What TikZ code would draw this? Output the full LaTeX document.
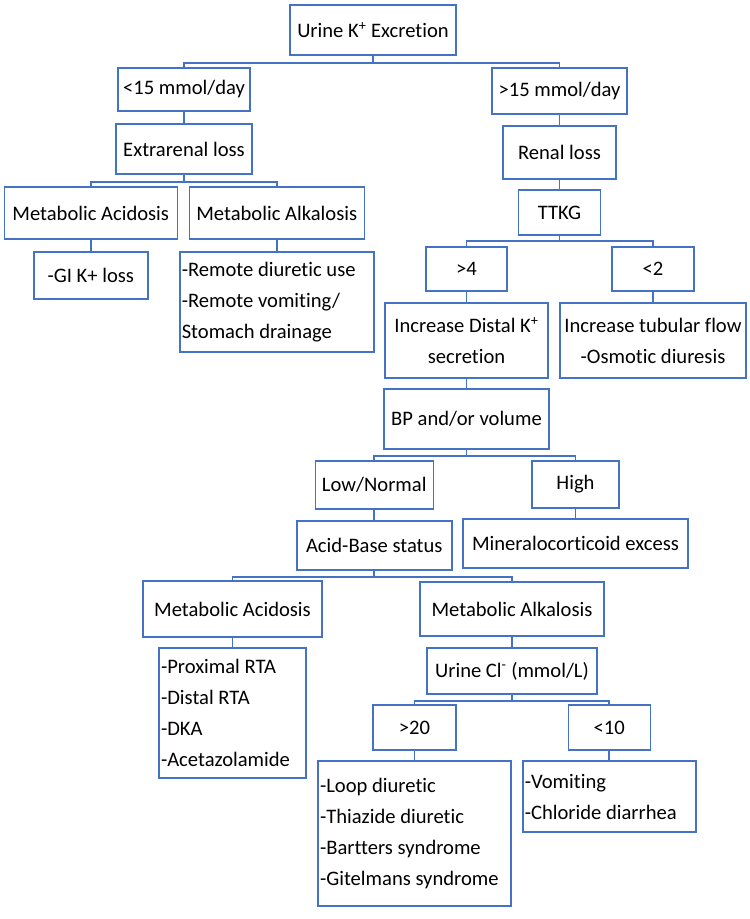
\documentclass[tikz,border=0pt]{standalone}
\usepackage{fontspec}
\setmainfont{Carlito}[Ligatures=NoCommon]
\definecolor{boxblue}{HTML}{4472C4}

\begin{document}
\begin{tikzpicture}[
x=1pt, y=-1pt,
box/.style={draw=boxblue, line width=1.5pt, align=center, inner sep=1pt, font=\fontsize{20.6}{31}\selectfont},
sz/.style 2 args={minimum width=#1pt, minimum height=#2pt},
list/.style={box, align=flush left, inner xsep=2pt, text width=#1pt},
link/.style={draw=boxblue, line width=1.6pt}
]
\useasboundingbox (0,0) rectangle (750,919);

% top levels
\node[box, sz={166}{50}] (urine) at (373,30) {Urine K\textsuperscript{+} Excretion};
\node[box, sz={132}{43}] (lt15) at (184,89.5) {<15 mmol/day};
\node[box, sz={135}{46}] (gt15) at (559.5,91) {>15 mmol/day};
\node[box, sz={136}{50}] (extra) at (184,149) {Extrarenal loss};
\node[box, sz={113}{53}] (renal) at (559.5,152.5) {Renal loss};
\node[box, sz={82}{45}] (ttkg) at (559.5,212.5) {TTKG};

% extrarenal branch
\node[box, sz={173}{52}] (macid) at (90.75,213) {Metabolic Acidosis};
\node[box, sz={175}{52}] (malk) at (276.75,213) {Metabolic Alkalosis};
\node[box, sz={114}{47}] (gi) at (90.75,275.5) {-GI K+ loss};
\node[list=190, sz={194}{100}] (remote) at (276.75,302) {-Remote diuretic use\\-Remote vomiting/\\Stomach drainage};

% renal branch
\node[box, sz={81}{44}] (gt4) at (466.5,269) {>4};
\node[box, sz={82}{44}] (lt2) at (653,269) {<2};
\node[box, sz={163}{75}] (distal) at (466.5,340.5) {Increase Distal K\textsuperscript{+}\\secretion};
\node[box, sz={186}{75}] (tubular) at (653,340.5) {Increase tubular flow\\-Osmotic diuresis};
\node[box, sz={165}{60}] (bp) at (466.5,419) {BP and/or volume};
\node[box, sz={118}{48}] (lownorm) at (374.25,485) {Low/Normal};
\node[box, sz={87}{47}] (high) at (575.5,484.5) {High};
\node[box, sz={155}{49}] (acidbase) at (374.25,545.5) {Acid-Base status};
\node[box, sz={225}{49}] (mineral) at (575.5,543.5) {Mineralocorticoid excess};

% acid-base branch
\node[box, sz={179}{56}] (macid2) at (232.5,609) {Metabolic Acidosis};
\node[box, sz={184}{54}] (malk2) at (512,609) {Metabolic Alkalosis};
\node[list=143, sz={147}{130}] (rta) at (232.5,713) {-Proximal RTA\\-Distal RTA\\-DKA\\-Acetazolamide};
\node[box, sz={170}{46}] (urinecl) at (512,671) {Urine Cl\textsuperscript{-} (mmol/L)};
\node[box, sz={83}{45}] (gt20) at (414.5,727.5) {>20};
\node[box, sz={82}{45}] (lt10) at (609.25,727.5) {<10};
\node[list=189, sz={193}{145}] (loop) at (414.5,833.5) {-Loop diuretic\\-Thiazide diuretic\\-Bartters syndrome\\-Gitelmans syndrome};
\node[list=169, sz={173}{71}] (vomit) at (609.25,796.5) {-Vomiting\\-Chloride diarrhea};

% connectors
\draw[link] (urine.south) -- ++(0,7) -| (lt15.north);
\draw[link] (urine.south) -- ++(0,7) -| (gt15.north);
\draw[link] (lt15.south) -- (extra.north);
\draw[link] (extra.south) -- ++(0,7) -| (macid.north);
\draw[link] (extra.south) -- ++(0,7) -| (malk.north);
\draw[link] (macid.south) -- (gi.north);
\draw[link] (malk.south) -- (remote.north);
\draw[link] (gt15.south) -- (renal.north);
\draw[link] (renal.south) -- (ttkg.north);
\draw[link] (ttkg.south) -- ++(0,5) -| (gt4.north);
\draw[link] (ttkg.south) -- ++(0,5) -| (lt2.north);
\draw[link] (gt4.south) -- (distal.north);
\draw[link] (lt2.south) -- (tubular.north);
\draw[link] (distal.south) -- (bp.north);
\draw[link] (bp.south) -- ++(0,6) -| (lownorm.north);
\draw[link] (bp.south) -- ++(0,6) -| (high.north);
\draw[link] (lownorm.south) -- (acidbase.north);
\draw[link] (high.south) -- (mineral.north);
\draw[link] (acidbase.south) -- ++(0,6) -| (macid2.north);
\draw[link] (acidbase.south) -- ++(0,6) -| (malk2.north);
\draw[link] (macid2.south) -- (rta.north);
\draw[link] (malk2.south) -- (urinecl.north);
\draw[link] (urinecl.south) -- ++(0,6) -| (gt20.north);
\draw[link] (urinecl.south) -- ++(0,6) -| (lt10.north);
\draw[link] (gt20.south) -- (loop.north);
\draw[link] (lt10.south) -- (vomit.north);
\end{tikzpicture}
\end{document}
